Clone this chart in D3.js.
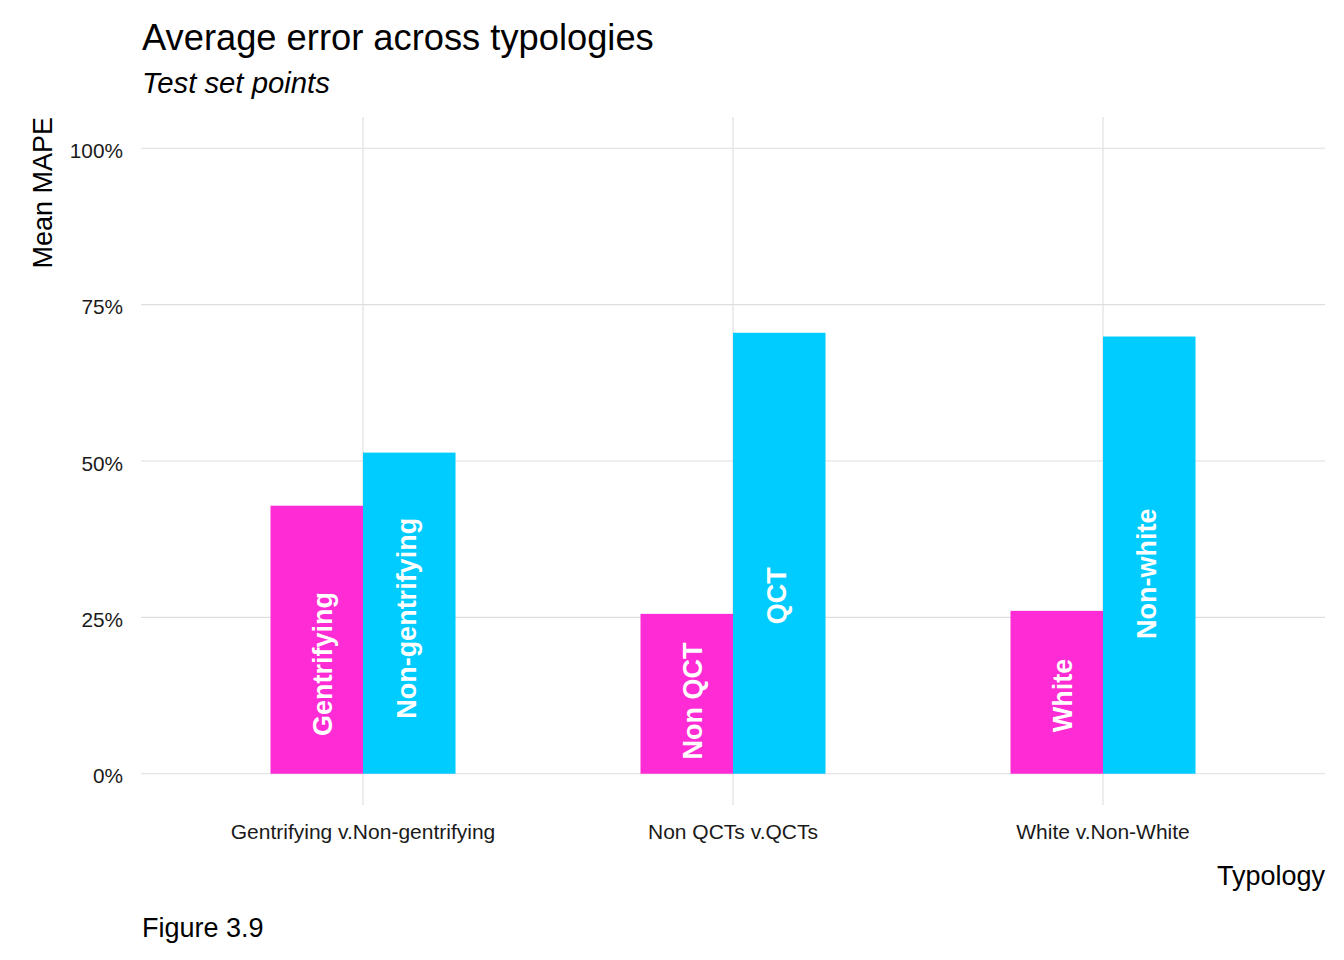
<!DOCTYPE html>
<html>
<head>
<meta charset="utf-8">
<script src="https://cdn.jsdelivr.net/npm/d3@7"></script>
<style>
  html, body { margin: 0; padding: 0; background: #fff; }
  svg { display: block; font-family: "Liberation Sans", Arial, sans-serif; }
</style>
</head>
<body>
<svg id="chart" width="1344" height="960"></svg>
<script>
// ---- data ----
const typologies = ["Gentrifying v.Non-gentrifying", "Non QCTs v.QCTs", "White v.Non-White"];
const groups = ["first", "second"];
const firstLabels = ["Gentrifying", "Non QCT", "White"];
const secondLabels = ["Non-gentrifying", "QCT", "Non-white"];
const firstValues = [0.4285, 0.2556, 0.2604];
const secondValues = [0.5134, 0.7050, 0.6990];
const firstLabelPos = [0.1756, 0.1164, 0.1252];
const secondLabelPos = [0.2484, 0.2845, 0.3197];
const yTicks = [0, 0.25, 0.5, 0.75, 1];
const colors = ["#FF2BD4", "#00CCFF"];

const rows = [];
typologies.forEach((t, i) => {
  rows.push({typ: t, grp: "first", value: firstValues[i], label: firstLabels[i], lpos: firstLabelPos[i]});
  rows.push({typ: t, grp: "second", value: secondValues[i], label: secondLabels[i], lpos: secondLabelPos[i]});
});

// ---- layout ----
const svg = d3.select("#chart");
const panel = {left: 141, right: 1325, top: 117, bottom: 805};

const x = d3.scaleBand().domain(typologies).range([panel.left, panel.right])
  .paddingInner(0.5).paddingOuter(0.35);
const xs = d3.scaleBand().domain(groups).range([0, x.bandwidth()]);
// label dodge (slightly narrower than the bar dodge)
const labelWidth = x.step() * 0.45;
const xl = d3.scaleBand().domain(groups).range([0, labelWidth]);
const y = d3.scaleLinear().domain([-0.05, 1.05]).range([panel.bottom, panel.top]);
const color = d3.scaleOrdinal().domain(groups).range(colors);

const grid = "#DEDEDE";

// grid lines
svg.append("g").selectAll("line.h").data(yTicks).join("line")
  .attr("x1", panel.left).attr("x2", panel.right)
  .attr("y1", d => y(d)).attr("y2", d => y(d))
  .attr("stroke", grid).attr("stroke-width", 1.07);
svg.append("g").selectAll("line.v").data(typologies).join("line")
  .attr("x1", d => x(d) + x.bandwidth() / 2).attr("x2", d => x(d) + x.bandwidth() / 2)
  .attr("y1", panel.top).attr("y2", panel.bottom)
  .attr("stroke", grid).attr("stroke-width", 1.07);

// bars
svg.append("g").selectAll("rect").data(rows).join("rect")
  .attr("x", d => x(d.typ) + xs(d.grp))
  .attr("width", xs.bandwidth())
  .attr("y", d => y(d.value))
  .attr("height", d => y(0) - y(d.value))
  .attr("fill", d => color(d.grp));

// bar labels
svg.append("g").selectAll("text").data(rows).join("text")
  .attr("transform", d => {
    const cx = x(d.typ) + x.bandwidth() / 2 - labelWidth / 2 + xl(d.grp) + xl.bandwidth() / 2;
    return `translate(${cx},${y(d.lpos)}) rotate(-90)`;
  })
  .attr("text-anchor", "middle")
  .attr("dy", "0.41em")
  .attr("fill", "#fff")
  .attr("font-weight", "bold")
  .attr("font-size", "27px")
  .text(d => d.label);

// y axis
const yAxis = svg.append("g").attr("transform", `translate(${panel.left},0)`)
  .call(d3.axisLeft(y).tickValues(yTicks).tickFormat(d3.format(".0%")).tickSize(0).tickPadding(18));
yAxis.select(".domain").remove();
yAxis.selectAll("text").attr("font-size", "20.8px").attr("fill", "#1a1a1a").attr("dy", "0.44em")
  .attr("font-family", "Liberation Sans, Arial, sans-serif");

// x axis
const xAxis = svg.append("g").attr("transform", `translate(0,${panel.bottom})`)
  .call(d3.axisBottom(x).tickSize(0).tickPadding(19.5));
xAxis.select(".domain").remove();
xAxis.selectAll("text").attr("font-size", "21px").attr("fill", "#1a1a1a")
  .attr("font-family", "Liberation Sans, Arial, sans-serif");

// titles
svg.append("text").attr("x", 142).attr("y", 50)
  .attr("font-size", "36.3px").attr("fill", "#000")
  .text("Average error across typologies");
svg.append("text").attr("x", 142).attr("y", 93)
  .attr("font-size", "29.3px").attr("font-style", "italic").attr("fill", "#000")
  .text("Test set points");
svg.append("text")
  .attr("transform", `translate(52,${panel.top}) rotate(-90)`)
  .attr("text-anchor", "end")
  .attr("font-size", "27px").attr("fill", "#000")
  .text("Mean MAPE");
svg.append("text").attr("x", panel.right).attr("y", 884.5)
  .attr("text-anchor", "end")
  .attr("font-size", "27px").attr("fill", "#000")
  .text("Typology");
svg.append("text").attr("x", 142).attr("y", 936.5)
  .attr("font-size", "27px").attr("fill", "#000")
  .text("Figure 3.9");
</script>
</body>
</html>
